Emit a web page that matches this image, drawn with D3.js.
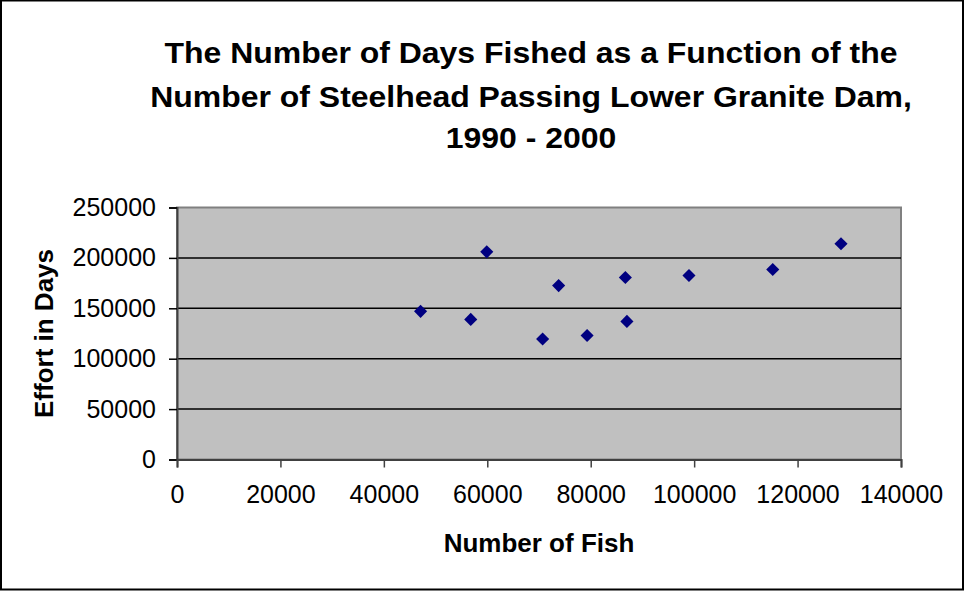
<!DOCTYPE html>
<html>
<head>
<meta charset="utf-8">
<script src="https://cdn.jsdelivr.net/npm/d3@7"></script>
<style>
  html, body { margin: 0; padding: 0; background: #fff; }
  svg { display: block; }
  text { font-family: "Liberation Sans", Arial, sans-serif; fill: #000; }
</style>
</head>
<body>
<svg id="chart" width="967" height="592"></svg>
<script>
// Steelhead counts at Lower Granite Dam vs. angler effort, 1990-2000
const years = [1990, 1991, 1992, 1993, 1994, 1995, 1996, 1997, 1998, 1999, 2000];
const fishCounts = [47100, 59900, 56800, 70700, 73800, 79300, 86700, 87000, 99000, 115200, 128400];
const effortDays = [147000, 206000, 139000, 119500, 172500, 123000, 180500, 137000, 182500, 188500, 214000];

const xTicks = [0, 20000, 40000, 60000, 80000, 100000, 120000, 140000];
const yTicks = [0, 50000, 100000, 150000, 200000, 250000];

const titleLines = [
  "The Number of Days Fished as a Function of the",
  "Number of Steelhead Passing Lower Granite Dam,",
  "1990 - 2000"
];
const xTitle = "Number of Fish";
const yTitle = "Effort in Days";

const svg = d3.select("#chart");

// outer chart frame
svg.append("rect")
  .attr("x", 1).attr("y", 0.5)
  .attr("width", 962).attr("height", 589)
  .attr("fill", "#fff")
  .attr("stroke", "#000").attr("stroke-width", 2);

const plot = { left: 177, right: 901, top: 207.5, bottom: 459.5 };

const x = d3.scaleLinear().domain([0, 140000]).range([plot.left, plot.right]);
const y = d3.scaleLinear().domain([0, 250000]).range([plot.bottom, plot.top]);

// plot background
svg.append("rect")
  .attr("x", plot.left).attr("y", plot.top)
  .attr("width", plot.right - plot.left).attr("height", plot.bottom - plot.top)
  .attr("fill", "#c0c0c0")
  .attr("stroke", "#808080").attr("stroke-width", 2);

// horizontal gridlines
svg.append("g")
  .selectAll("line")
  .data(yTicks.filter(d => d > 0 && d < 250000))
  .join("line")
  .attr("x1", plot.left).attr("x2", plot.right)
  .attr("y1", d => y(d)).attr("y2", d => y(d))
  .attr("stroke", "#000").attr("stroke-width", 1.5);

// y axis
const yAxis = svg.append("g")
  .attr("transform", `translate(${plot.left},0)`)
  .call(d3.axisLeft(y).tickValues(yTicks).tickSize(8).tickPadding(13).tickFormat(d3.format("d")));
yAxis.select(".domain").attr("stroke", "#404040").attr("stroke-width", 2);
yAxis.selectAll(".tick line").attr("stroke", "#000").attr("stroke-width", 1.5);
yAxis.selectAll(".tick text")
  .attr("font-size", 25)
  .attr("font-family", "Liberation Sans, Arial, sans-serif")
  .attr("fill", "#000");

// x axis
const xAxis = svg.append("g")
  .attr("transform", `translate(0,${plot.bottom})`)
  .call(d3.axisBottom(x).tickValues(xTicks).tickSize(8).tickPadding(18).tickFormat(d3.format("d")));
xAxis.select(".domain").attr("stroke", "#404040").attr("stroke-width", 2);
xAxis.selectAll(".tick line").attr("stroke", "#404040").attr("stroke-width", 1.5);
xAxis.selectAll(".tick text")
  .attr("font-size", 25)
  .attr("font-family", "Liberation Sans, Arial, sans-serif")
  .attr("fill", "#000");

// data markers: navy diamonds
const pts = fishCounts.map((f, i) => ({ year: years[i], fish: f, effort: effortDays[i] }));
svg.append("g")
  .selectAll("path")
  .data(pts)
  .join("path")
  .attr("d", d3.symbol().type(d3.symbolSquare).size(86))
  .attr("transform", d => `translate(${x(d.fish)},${y(d.effort)}) rotate(45)`)
  .attr("fill", "#000080");

// title, slightly widened
const titleBaselines = [63.5, 107.3, 148];
svg.append("g")
  .attr("transform", "translate(531,0) scale(1.065,1)")
  .selectAll("text")
  .data(titleLines)
  .join("text")
  .attr("x", 0)
  .attr("y", (d, i) => titleBaselines[i])
  .attr("text-anchor", "middle")
  .attr("font-size", 30)
  .attr("font-weight", "bold")
  .text(d => d);

// axis titles
svg.append("text")
  .attr("x", (plot.left + plot.right) / 2)
  .attr("y", 552)
  .attr("text-anchor", "middle")
  .attr("font-size", 26)
  .attr("font-weight", "bold")
  .text(xTitle);

svg.append("text")
  .attr("transform", `translate(53,${(plot.top + plot.bottom) / 2}) rotate(-90)`)
  .attr("text-anchor", "middle")
  .attr("font-size", 26)
  .attr("font-weight", "bold")
  .text(yTitle);
</script>
</body>
</html>
